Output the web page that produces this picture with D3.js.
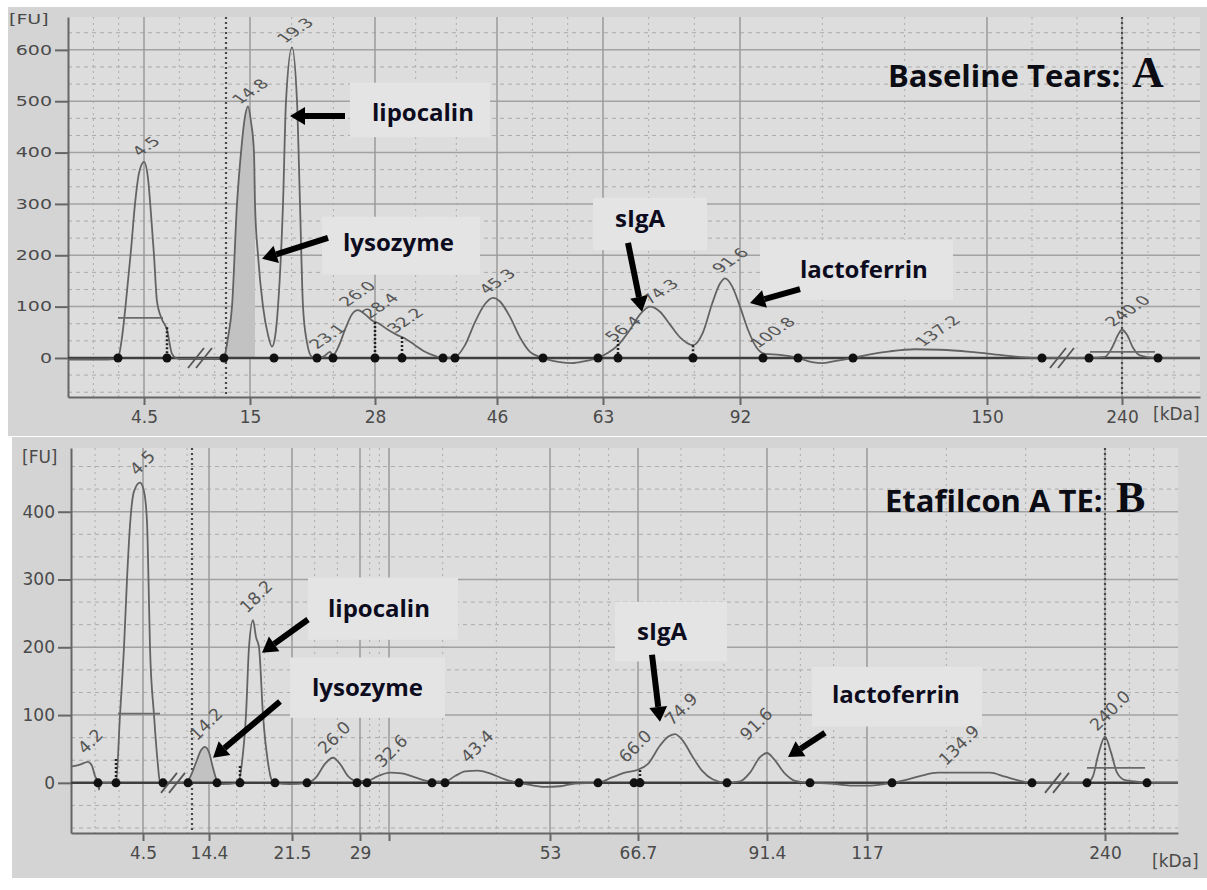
<!DOCTYPE html>
<html>
<head>
<meta charset="utf-8">
<script src="https://cdn.jsdelivr.net/npm/d3@7"></script>
<style>
body { margin: 0; background: #ffffff; }
svg { display: block; }
</style>
</head>
<body>
<script>
"use strict";

// x values are migration time (s), y values are fluorescence (FU)

// ---- panel A : baseline tears
var ticksA = [14.4, 25.0, 37.5, 49.7, 60.3, 74.0, 98.7, 112.2];
var tickLabelsA = ["4.5", "15", "28", "46", "63", "92", "150", "240"];
var markersA = [22.6, 112.2];
var breaksA = [20.0, 106.2];
var traceA = [[6.8,-3],[10.0,-3],[11.5,-2],[11.8,0],[12.2,40],[12.6,110],[13.1,210],[13.5,300],[13.9,360],[14.4,382],[14.8,350],[15.1,280],[15.4,200],[15.7,110],[16.2,75],[16.7,55],[17.2,8],[17.6,0],[18.0,-2],[22.2,-2],
  [22.4,0],[22.8,40],[23.2,100],[23.7,300],[24.1,400],[24.5,470],[24.8,490],[25.1,460],[25.4,400],[25.5,300],[25.8,200],[26.3,100],[26.8,45],[27.2,22],
  [27.5,40],[27.8,100],[28.3,300],[28.6,500],[29.2,605],[29.7,500],[30.0,300],[30.3,100],[30.7,30],[31.2,2],[31.7,0],[32.4,3],[33.0,12],[33.3,5],[33.8,20],[34.6,60],[35.2,85],[35.8,93],[36.5,85],[37.2,73],[37.8,68],[38.8,55],[39.7,45],[40.5,38],[41.5,25],[42.5,12],[43.5,4],[44.3,0],
  [45.5,2],[46.5,25],[47.5,70],[48.5,105],[49.3,117],[50.0,110],[51.0,80],[52.0,40],[53.0,12],[54.0,2],[54.8,-3],[56.0,-8],[57.2,-10],[58.5,-6],[59.8,0],[60.8,10],[61.8,25],[63.0,55],[64.0,85],[65.0,100],[66.0,90],[67.0,65],[68.0,40],[69.3,25],
  [70.3,50],[71.2,105],[72.0,145],[72.5,155],[73.2,140],[74.0,100],[74.8,55],[75.6,22],[76.5,8],[78.0,6],[79.8,0],[81.2,-8],[82.2,-10],[83.5,-6],[85.3,0],[87.0,7],[89.0,13],[91.5,17],[94.0,16],[97.0,12],[100.0,6],[102.5,1],[104.2,0],
  [108.9,0],[110.5,2],[111.2,20],[111.8,45],[112.2,55],[112.7,45],[113.3,20],[114.0,5],[115.0,1],[115.8,0],[120.0,0]];
var dotsA = [11.8, 16.7, 22.4, 27.4, 31.7, 33.3, 37.5, 40.2, 44.3, 45.5, 54.3, 59.8, 61.8, 69.3, 76.3, 79.8, 85.3, 104.2, 108.9, 115.8];
var dropsA = [[16.7, 60], [37.5, 70], [40.2, 41], [61.8, 35], [69.3, 25]];
var widthsA = [[11.8, 16.3, 78], [109.0, 115.5, 12]];
var shadeA = [22.4, 25.7];
var peakLabelsA = [[14.0,392,"4.5"],[24.0,493,"14.8"],[28.5,612,"19.3"],[31.7,16,"23.1"],[34.7,99,"26.0"],[37.0,76,"28.4"],[39.5,47,"32.2"],[48.7,123,"45.3"],[61.3,31,"56.4"],[65.0,103,"74.3"],[72.0,164,"91.6"],[75.8,18,"100.8"],[92.3,21,"137.2"],[111.3,60,"240.0"]];
var notesA = [
  {text: "lipocalin", at: [37.2, 462], tip: [29.0, 471], tail: [34.5, 471], box: [35.0, 49.0, 430, 536]},
  {text: "lysozyme", at: [34.3, 208], tip: [26.2, 193], tail: [32.8, 234], box: [32.2, 48.0, 162, 275]},
  {text: "sIgA", at: [61.5, 255], tip: [64.2, 90], tail: [62.8, 224], box: [59.3, 70.7, 210, 312]},
  {text: "lactoferrin", at: [80.0, 156], tip: [75.0, 107], tail: [80.0, 134], box: [76.0, 95.3, 113, 230]}
];

// ---- panel B : etafilcon A TE
var ticksB = [14.3, 20.9, 29.2, 36.0, 38.9, 55.0, 63.8, 76.7, 86.7, 110.5];
var tickLabelsB = ["4.5", "14.4", "21.5", "29", "", "53", "66.7", "91.4", "117", "240"];
var markersB = [19.2, 110.5];
var breaksB = [17.3, 105.7];
var traceB = [[7.1,24],[8.0,27],[8.8,31],[9.2,25],[9.5,10],[9.8,0],[9.9,-10],[10.0,0],[10.8,0],
  [11.6,0],[12.0,100],[12.4,200],[12.7,300],[13.0,380],[13.4,430],[14.0,443],[14.4,430],[14.7,385],[14.85,300],[15.0,200],[15.4,100],[15.8,25],[16.0,0],[16.3,0],
  [18.6,0],[19.0,8],[19.6,30],[20.1,48],[20.5,53],[20.9,45],[21.3,22],[21.7,3],[22.2,-2],[23.8,0],[24.2,30],[24.6,100],[24.9,200],[25.3,240],[25.6,215],[25.9,200],[26.3,100],[26.8,30],[27.2,3],[27.5,0],
  [29.0,-2],[30.7,0],[31.6,8],[32.5,28],[33.3,37],[34.0,28],[34.8,10],[35.7,3],[36.7,3],[37.8,10],[39.0,15],[40.2,14],[41.5,8],[43.2,2],[44.5,2],[45.5,10],[46.5,17],[47.8,18],[49.0,14],[50.5,5],[51.9,0],
  [53.0,-3],[54.5,-6],[56.0,-5],[57.5,-1],[59.8,0],[61.2,8],[62.5,15],[63.7,19],[64.8,28],[66.0,55],[66.8,68],[67.5,72],[68.3,62],[69.2,40],[70.2,18],[71.3,5],[72.7,0],
  [74.0,2],[75.0,15],[76.0,38],[76.7,44],[77.4,35],[78.4,15],[79.5,3],[81.0,0],[83.0,-1],[85.0,-4],[87.0,-4],[89.2,0],[90.5,4],[92.0,10],[93.8,15],[99.0,15],[100.5,9],[102.0,3],[103.2,0],
  [108.7,0],[109.3,10],[109.8,40],[110.5,68],[111.1,45],[111.7,15],[112.5,4],[113.5,2],[114.7,0],[117.8,0]];
var dotsB = [9.8, 11.6, 16.3, 18.8, 21.7, 24.0, 27.5, 30.7, 35.7, 36.7, 43.2, 44.5, 51.9, 59.8, 63.4, 64.0, 72.7, 81.0, 89.2, 103.2, 108.7, 114.7];
var dropsB = [[11.6, 35], [24.0, 25], [64.0, 19]];
var widthsB = [[11.8, 16.0, 102], [108.7, 114.5, 22]];
var shadeB = [18.8, 21.7];
var peakLabelsB = [[8.5,41,"4.2"],[13.7,452,"4.5"],[19.7,61,"14.2"],[24.7,249,"18.2"],[32.5,41,"26.0"],[38.2,21,"32.6"],[46.8,28,"43.4"],[62.6,28,"66.0"],[67.2,83,"74.9"],[74.7,61,"91.6"],[94.6,24,"134.9"],[109.7,75,"240.0"]];
var notesB = [
  {text: "lipocalin", at: [32.8, 245], tip: [26.2, 192], tail: [30.8, 241], box: [30.8, 45.8, 211, 303]},
  {text: "lysozyme", at: [31.2, 128], tip: [21.3, 37], tail: [28.0, 120], box: [29.0, 44.5, 96, 185]},
  {text: "sIgA", at: [63.7, 211], tip: [66.0, 90], tail: [65.2, 189], box: [61.5, 72.7, 179, 267]},
  {text: "lactoferrin", at: [83.2, 118], tip: [78.8, 38], tail: [82.5, 74], box: [81.2, 98.2, 83, 171]}
];

var svg = d3.select("body").append("svg")
    .attr("width", 1207)
    .attr("height", 890);

function arrow(g, x1, y1, x2, y2) {
    var dx = x2 - x1, dy = y2 - y1;
    var len = Math.sqrt(dx * dx + dy * dy);
    var ux = dx / len, uy = dy / len;
    var head = 15, half = 9;
    var bx = x2 - ux * head, by = y2 - uy * head;
    g.append("line")
        .attr("x1", x1).attr("y1", y1)
        .attr("x2", bx).attr("y2", by)
        .attr("stroke", "#000").attr("stroke-width", 6);
    g.append("path")
        .attr("d", "M" + x2 + "," + y2 +
            "L" + (bx - uy * half) + "," + (by + ux * half) +
            "L" + (bx + uy * half) + "," + (by - ux * half) + "Z")
        .attr("fill", "#000");
}

function drawPanel(p) {
    var g = svg.append("g").attr("class", p.name);
    var x = d3.scaleLinear().domain(p.xDomain).range([p.left, p.right]);
    var y = d3.scaleLinear().domain(p.yDomain).range([p.bottom, p.top]);

    g.append("rect")
        .attr("x", p.frame[0]).attr("y", p.frame[1])
        .attr("width", p.frame[2]).attr("height", p.frame[3])
        .attr("fill", "#d4d4d4");
    g.append("rect")
        .attr("x", p.left).attr("y", p.top)
        .attr("width", p.right - p.left).attr("height", p.bottom - p.top)
        .attr("fill", "#dddddd");

    //minor grid, thirds between the major lines
    var edges = [p.xDomain[0]].concat(p.ticks, [p.xDomain[1]]);
    var xMinor = [];
    edges.forEach(function (e, i) {
        if (i == edges.length - 1) return;
        var step = (edges[i + 1] - e) / 3;
        if (x(edges[i + 1]) - x(e) < 20) return;
        xMinor.push(e + step, e + 2 * step);
    });
    var yMinor = [];
    d3.range(-100, p.yDomain[1], 100).forEach(function (v) {
        [v + 100 / 3, v + 200 / 3].forEach(function (m) {
            if (m > p.yDomain[0] && m < p.yDomain[1]) yMinor.push(m);
        });
    });

    g.selectAll("line.xminor").data(xMinor).enter().append("line")
        .attr("class", "xminor")
        .attr("x1", x).attr("x2", x)
        .attr("y1", p.top).attr("y2", p.bottom)
        .attr("stroke", "#ababab").attr("stroke-width", 1)
        .attr("stroke-dasharray", "2,4");
    g.selectAll("line.yminor").data(yMinor).enter().append("line")
        .attr("class", "yminor")
        .attr("x1", p.left).attr("x2", p.right)
        .attr("y1", y).attr("y2", y)
        .attr("stroke", "#ababab").attr("stroke-width", 1)
        .attr("stroke-dasharray", "4,4");
    g.selectAll("line.ymajor").data(p.yTicks).enter().append("line")
        .attr("class", "ymajor")
        .attr("x1", p.left).attr("x2", p.right)
        .attr("y1", y).attr("y2", y)
        .attr("stroke", "#a2a2a2").attr("stroke-width", 1.5);
    g.selectAll("line.xmajor").data(p.ticks).enter().append("line")
        .attr("class", "xmajor")
        .attr("x1", x).attr("x2", x)
        .attr("y1", p.top).attr("y2", p.bottom)
        .attr("stroke", "#9a9a9a").attr("stroke-width", 1.5);
    g.selectAll("line.marker").data(p.markers).enter().append("line")
        .attr("class", "marker")
        .attr("x1", x).attr("x2", x)
        .attr("y1", p.top).attr("y2", p.bottom)
        .attr("stroke", "#4a4a4a").attr("stroke-width", 2.2)
        .attr("stroke-dasharray", "2,3");

    //label boxes
    g.selectAll("rect.note").data(p.notes).enter().append("rect")
        .attr("class", "note")
        .attr("x", function (d) { return x(d.box[0]); })
        .attr("y", function (d) { return y(d.box[3]); })
        .attr("width", function (d) { return x(d.box[1]) - x(d.box[0]); })
        .attr("height", function (d) { return y(d.box[2]) - y(d.box[3]); })
        .attr("fill", "#e4e4e4");

    //axes
    var yAxis = g.append("g")
        .attr("transform", "translate(" + p.left + ",0)")
        .call(d3.axisLeft(y).tickValues(p.yTicks).tickSizeInner(13).tickSizeOuter(0).tickPadding(3));
    var xAxis = g.append("g")
        .attr("transform", "translate(0," + p.bottom + ")")
        .call(d3.axisBottom(x).tickValues(p.ticks)
            .tickFormat(function (d, i) { return p.tickLabels[i]; })
            .tickSizeInner(8).tickSizeOuter(0).tickPadding(6));
    [yAxis, xAxis].forEach(function (a) {
        a.select(".domain").attr("stroke", "#666").attr("stroke-width", 2);
        a.selectAll(".tick line").attr("stroke", "#666").attr("stroke-width", 2);
        a.selectAll("text")
            .attr("fill", "#4a4a4a")
            .style("font-family", "'DejaVu Sans', Verdana, sans-serif")
            .style("font-size", "17px");
    });
    yAxis.selectAll("text").attr("transform", "scale(1," + p.ySquash + ")")
        .style("font-size", p.yFont + "px");

    g.append("text")
        .attr("x", p.fuPos[0]).attr("y", p.fuPos[1])
        .attr("transform", "translate(0," + p.fuPos[1] * (1 - p.ySquash) + ") scale(1," + p.ySquash + ")")
        .attr("fill", "#4a4a4a")
        .style("font-family", "'DejaVu Sans', Verdana, sans-serif")
        .style("font-size", p.yFont + "px")
        .text("[FU]");
    g.append("text")
        .attr("x", p.kdaPos[0]).attr("y", p.kdaPos[1])
        .attr("fill", "#4a4a4a")
        .style("font-family", "'DejaVu Sans', Verdana, sans-serif")
        .style("font-size", "17px")
        .text("[kDa]");

    //shaded peak
    var area = d3.area()
        .x(function (d) { return x(d[0]); })
        .y0(y(0))
        .y1(function (d) { return y(d[1]); })
        .curve(d3.curveMonotoneX);
    g.append("path")
        .datum(p.trace.filter(function (d) { return d[0] >= p.shade[0] && d[0] <= p.shade[1]; }))
        .attr("d", area)
        .attr("fill", "#c2c2c2");

    //baseline
    g.append("line")
        .attr("x1", p.left).attr("x2", p.right)
        .attr("y1", y(0)).attr("y2", y(0))
        .attr("stroke", "#3e3e3e").attr("stroke-width", 2.5);

    var line = d3.line()
        .x(function (d) { return x(d[0]); })
        .y(function (d) { return y(d[1]); })
        .curve(d3.curveMonotoneX);
    g.append("path")
        .datum(p.trace)
        .attr("d", line)
        .attr("fill", "none")
        .attr("stroke", "#636363")
        .attr("stroke-width", 1.8);

    g.selectAll("line.drop").data(p.drops).enter().append("line")
        .attr("class", "drop")
        .attr("x1", function (d) { return x(d[0]); })
        .attr("x2", function (d) { return x(d[0]); })
        .attr("y1", function (d) { return y(d[1]); })
        .attr("y2", y(0))
        .attr("stroke", "#222").attr("stroke-width", 2.5)
        .attr("stroke-dasharray", "2,2");
    g.selectAll("line.width").data(p.widths).enter().append("line")
        .attr("class", "width")
        .attr("x1", function (d) { return x(d[0]); })
        .attr("x2", function (d) { return x(d[1]); })
        .attr("y1", function (d) { return y(d[2]); })
        .attr("y2", function (d) { return y(d[2]); })
        .attr("stroke", "#6a6a6a").attr("stroke-width", 1.8);

    g.selectAll("circle.dot").data(p.dots).enter().append("circle")
        .attr("class", "dot")
        .attr("cx", x).attr("cy", y(0)).attr("r", 4.5)
        .attr("fill", "#111");

    //axis break marks
    p.breaks.forEach(function (b) {
        [-4, 4].forEach(function (o) {
            g.append("line")
                .attr("x1", x(b) + o - 8).attr("y1", y(0) + 10)
                .attr("x2", x(b) + o + 8).attr("y2", y(0) - 10)
                .attr("stroke", "#555").attr("stroke-width", 1.8);
        });
    });

    g.selectAll("text.peak").data(p.peakLabels).enter().append("text")
        .attr("class", "peak")
        .attr("transform", function (d) {
            return "translate(" + x(d[0]) + "," + y(d[1]) + ") scale(1," + p.peakSquash + ") rotate(-45)";
        })
        .attr("fill", "#555")
        .style("font-family", "'DejaVu Sans', Verdana, sans-serif")
        .style("font-size", p.peakFont + "px")
        .text(function (d) { return d[2]; });

    //annotations
    p.notes.forEach(function (d) {
        arrow(g, x(d.tail[0]), y(d.tail[1]), x(d.tip[0]), y(d.tip[1]));
        g.append("text")
            .attr("x", x(d.at[0])).attr("y", y(d.at[1]))
            .attr("fill", "#0c0c1e")
            .style("font-family", "'Open Sans', sans-serif")
            .style("font-weight", "bold")
            .style("font-size", "24px")
            .text(d.text);
    });

    var title = g.append("text")
        .attr("x", p.titlePos[0]).attr("y", p.titlePos[1])
        .attr("fill", "#0c0c14")
        .style("font-family", "'Open Sans', sans-serif")
        .style("font-weight", "bold")
        .style("font-size", "31px")
        .text(p.title);
    title.append("tspan")
        .attr("x", p.letterX)
        .style("font-family", "'Liberation Serif', 'DejaVu Serif', serif")
        .style("font-size", "44px")
        .text(p.letter);
}

drawPanel({
    name: "panelA",
    frame: [8, 7, 1199, 429],
    left: 68, right: 1200, top: 17, bottom: 397,
    xDomain: [6.8, 120.0], yDomain: [-76, 664],
    yTicks: [0, 100, 200, 300, 400, 500, 600],
    ticks: ticksA, tickLabels: tickLabelsA, markers: markersA, breaks: breaksA,
    trace: traceA, dots: dotsA, drops: dropsA, widths: widthsA, shade: shadeA,
    peakLabels: peakLabelsA, notes: notesA,
    ySquash: 0.7, yFont: 19, peakSquash: 0.68, peakFont: 19,
    fuPos: [9, 24], kdaPos: [1153, 420],
    title: "Baseline Tears: ", letter: "A", titlePos: [888, 87], letterX: 1132
});

drawPanel({
    name: "panelB",
    frame: [12, 437, 1195, 441],
    left: 71, right: 1178, top: 448, bottom: 833,
    xDomain: [7.1, 117.8], yDomain: [-74, 494],
    yTicks: [0, 100, 200, 300, 400],
    ticks: ticksB, tickLabels: tickLabelsB, markers: markersB, breaks: breaksB,
    trace: traceB, dots: dotsB, drops: dropsB, widths: widthsB, shade: shadeB,
    peakLabels: peakLabelsB, notes: notesB,
    ySquash: 1, yFont: 17, peakSquash: 1, peakFont: 17,
    fuPos: [22, 463], kdaPos: [1152, 867],
    title: "Etafilcon A TE: ", letter: "B", titlePos: [885, 512], letterX: 1116
});
</script>
</body>
</html>
